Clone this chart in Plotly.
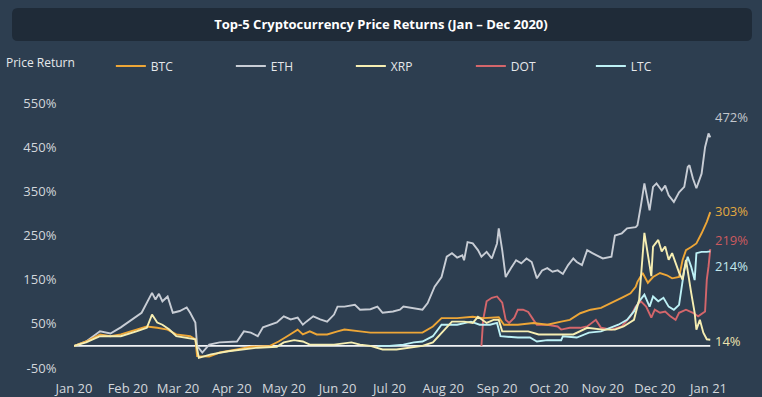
import plotly.graph_objects as go

# ---------------- data (percent price return since 1 Jan 2020) ----------------
btc_dates = ["2020-01-01","2020-01-08","2020-01-16","2020-01-22","2020-01-28","2020-02-06","2020-02-12",
             "2020-02-18","2020-02-24","2020-02-29","2020-03-08","2020-03-11","2020-03-12","2020-03-19",
             "2020-03-25","2020-04-04","2020-04-12","2020-04-23","2020-04-28","2020-05-03","2020-05-09",
             "2020-05-12","2020-05-16","2020-05-20","2020-05-26","2020-06-01","2020-06-05","2020-06-14",
             "2020-06-20","2020-06-27","2020-07-09","2020-07-20","2020-07-26","2020-07-31","2020-08-09",
             "2020-08-18","2020-08-24","2020-09-02","2020-09-05","2020-09-13","2020-09-22","2020-09-30",
             "2020-10-08","2020-10-13","2020-10-19","2020-10-25","2020-10-31","2020-11-06","2020-11-13",
             "2020-11-17","2020-11-20","2020-11-21","2020-11-24","2020-11-27","2020-11-30","2020-12-04",
             "2020-12-08","2020-12-11","2020-12-15","2020-12-17","2020-12-19","2020-12-22","2020-12-25",
             "2020-12-28","2020-12-31","2021-01-02"]
btc_vals = [0,10,26,22,26,37,44,41,37,26,22,15,-23,-24,-15,-8,-2,0,10,22,37,26,33,26,26,33,37,33,30,30,
            30,30,44,63,63,66,63,65,48,48,52,48,55,59,74,82,86,97,111,119,134,145,165,143,156,165,160,153,
            156,194,217,224,232,255,281,303]

eth_dates = ["2020-01-01","2020-01-08","2020-01-16","2020-01-22","2020-01-28","2020-02-06","2020-02-09",
             "2020-02-15","2020-02-17","2020-02-19","2020-02-21","2020-02-24","2020-02-27","2020-03-02",
             "2020-03-06","2020-03-08","2020-03-10","2020-03-11","2020-03-12","2020-03-15","2020-03-19",
             "2020-03-25","2020-04-04","2020-04-08","2020-04-12","2020-04-16","2020-04-19","2020-04-23",
             "2020-04-27","2020-05-01","2020-05-05","2020-05-09","2020-05-12","2020-05-14","2020-05-18",
             "2020-05-22","2020-05-26","2020-05-30","2020-06-01","2020-06-05","2020-06-11","2020-06-14",
             "2020-06-20","2020-06-24","2020-06-27","2020-07-03","2020-07-07","2020-07-09","2020-07-15",
             "2020-07-20","2020-07-23","2020-07-27","2020-07-31","2020-08-03","2020-08-06","2020-08-09",
             "2020-08-12","2020-08-13","2020-08-15","2020-08-18","2020-08-21","2020-08-23","2020-08-26",
             "2020-08-29","2020-09-01","2020-09-02","2020-09-04","2020-09-06","2020-09-09","2020-09-12",
             "2020-09-15","2020-09-18","2020-09-21","2020-09-24","2020-09-27","2020-09-30","2020-10-03",
             "2020-10-06","2020-10-09","2020-10-12","2020-10-15","2020-10-17","2020-10-20","2020-10-23",
             "2020-10-26","2020-10-30","2020-11-01","2020-11-06","2020-11-08","2020-11-12","2020-11-15",
             "2020-11-20","2020-11-21","2020-11-23","2020-11-25","2020-11-28","2020-11-30","2020-12-02",
             "2020-12-05","2020-12-07","2020-12-09","2020-12-12","2020-12-15","2020-12-18","2020-12-20",
             "2020-12-21","2020-12-23","2020-12-25","2020-12-28","2020-12-30","2021-01-01","2021-01-02"]
eth_vals = [0,10,33,28,42,67,75,120,105,118,101,112,75,79,87,75,60,53,0,-15,3,8,10,33,30,22,42,48,53,67,
            60,64,48,55,67,60,55,71,89,89,93,82,83,89,75,78,82,89,86,82,97,134,156,202,210,200,205,194,235,
            232,217,202,213,198,232,266,217,156,176,194,187,198,190,153,171,176,168,171,163,183,198,190,183,
            217,210,202,198,202,250,255,266,269,273,318,368,307,360,368,352,363,341,326,348,360,405,409,379,
            357,390,450,481,472]

xrp_dates = ["2020-01-01","2020-01-08","2020-01-16","2020-01-28","2020-02-06","2020-02-12","2020-02-15",
             "2020-02-18","2020-02-21","2020-02-25","2020-02-29","2020-03-06","2020-03-11","2020-03-13",
             "2020-03-20","2020-03-30","2020-04-08","2020-04-16","2020-04-27","2020-05-01","2020-05-07",
             "2020-05-12","2020-05-16","2020-05-30","2020-06-09","2020-06-14","2020-06-20","2020-06-27",
             "2020-07-05","2020-07-13","2020-07-20","2020-07-26","2020-07-31","2020-08-06","2020-08-13",
             "2020-08-18","2020-08-21","2020-08-26","2020-08-30","2020-09-02","2020-09-04","2020-09-13",
             "2020-09-19","2020-09-25","2020-10-02","2020-10-08","2020-10-15","2020-10-23","2020-11-01",
             "2020-11-08","2020-11-13","2020-11-19","2020-11-22","2020-11-25","2020-11-27","2020-11-29",
             "2020-11-30","2020-12-03","2020-12-05","2020-12-07","2020-12-09","2020-12-11","2020-12-13",
             "2020-12-15","2020-12-17","2020-12-19","2020-12-22","2020-12-24","2020-12-25","2020-12-27",
             "2020-12-29","2020-12-31","2021-01-02"]
xrp_vals = [0,8,22,22,33,41,71,53,48,37,22,19,15,-27,-19,-12,-8,-4,-2,8,13,10,3,3,8,3,0,-8,-8,-4,0,8,30,
            55,55,52,66,52,59,59,33,33,33,26,26,27,26,41,37,37,44,59,105,256,210,158,225,240,214,225,195,
            210,188,166,150,195,120,75,37,59,30,15,14]

dot_dates = ["2020-08-23","2020-08-24","2020-08-26","2020-08-29","2020-09-01","2020-09-04","2020-09-06",
             "2020-09-08","2020-09-11","2020-09-13","2020-09-16","2020-09-19","2020-09-22","2020-09-24",
             "2020-09-30","2020-10-06","2020-10-08","2020-10-13","2020-10-19","2020-10-23","2020-10-28",
             "2020-10-31","2020-11-06","2020-11-12","2020-11-17","2020-11-20","2020-11-23","2020-11-26",
             "2020-11-29","2020-12-01","2020-12-04","2020-12-07","2020-12-10","2020-12-13","2020-12-15",
             "2020-12-19","2020-12-23","2020-12-26","2020-12-30","2020-12-31","2021-01-01","2021-01-02"]
dot_vals = [0,59,101,109,112,98,59,52,64,82,82,77,59,48,48,44,37,41,41,44,59,41,37,44,67,89,101,89,64,82,
            75,78,67,59,75,82,75,67,78,150,180,219]

ltc_dates = ["2020-06-24","2020-07-01","2020-07-09","2020-07-15","2020-07-20","2020-07-26","2020-07-31",
             "2020-08-09","2020-08-17","2020-08-22","2020-08-28","2020-09-01","2020-09-03","2020-09-13",
             "2020-09-20","2020-09-24","2020-09-30","2020-10-08","2020-10-09","2020-10-17","2020-10-24",
             "2020-10-31","2020-11-10","2020-11-15","2020-11-19","2020-11-22","2020-11-25","2020-11-28",
             "2020-11-30","2020-12-03","2020-12-06","2020-12-09","2020-12-12","2020-12-15","2020-12-18",
             "2020-12-20","2020-12-22","2020-12-24","2020-12-25","2020-12-28","2020-12-31","2021-01-02"]
ltc_vals = [0,0,3,8,10,22,48,48,55,48,48,52,22,19,19,10,13,13,22,19,30,33,48,59,78,101,116,89,112,101,
            109,89,82,93,172,202,179,149,210,213,213,214]

y_tick_vals = [-50, 50, 150, 250, 350, 450, 550]
y_tick_text = ["-50%", "50%", "150%", "250%", "350%", "450%", "550%"]
x_tick_vals = ["2020-01-01","2020-02-01","2020-03-01","2020-04-01","2020-05-01","2020-06-01","2020-07-01",
               "2020-08-01","2020-09-01","2020-10-01","2020-11-01","2020-12-01","2021-01-01"]
x_tick_text = ["Jan 20","Feb 20","Mar 20","Apr 20","May 20","Jun 20","Jul 20","Aug 20","Sep 20",
               "Oct 20","Nov 20","Dec 20","Jan 21"]

# ---------------- styling ----------------
BG = "#2d3e50"
BOX = "#1f2b38"
FONT = "Open Sans"
series = [  # name, dates, values, line colour, label colour, legend rank (list order = draw order)
    ("ETH", eth_dates, eth_vals, "#c8cdd5", "#c3c7cd", 2),
    ("DOT", dot_dates, dot_vals, "#d4666b", "#cc5a5f", 4),
    ("BTC", btc_dates, btc_vals, "#eda637", "#e2a940", 1),
    ("LTC", ltc_dates, ltc_vals, "#bdf1f6", "#c3e8ee", 5),
    ("XRP", xrp_dates, xrp_vals, "#f6eeb2", "#ece2ae", 3),
]
# label vertical placement (percent units on the y axis) to avoid overlaps
label_pos = {"ETH": 518, "BTC": 306, "DOT": 240, "LTC": 180, "XRP": 12}

W, H = 762, 397
ML, MR, MT, MB = 74, 50, 103, 29

fig = go.Figure()
for name, d, v, col, lcol, rank in series:
    fig.add_trace(go.Scatter(x=d, y=v, mode="lines", name=name, legendrank=rank,
                             line=dict(color=col, width=1.9)))
    fig.add_annotation(x=d[-1], y=label_pos[name], text=f"{v[-1]}%", showarrow=False,
                       xanchor="left", yanchor="middle", xshift=3,
                       font=dict(family=FONT, size=13, color=lcol))

# zero baseline
fig.add_shape(type="line", xref="x", yref="y", x0=btc_dates[0], x1=btc_dates[-1], y0=0, y1=0,
              line=dict(color="#f2f4f6", width=1.6), layer="below")

# title box (rounded rectangle)
pw, ph = W - ML - MR, H - MT - MB
def px_x(p): return (p - ML) / pw
def px_y(p): return (H - MB - p) / ph
bx0, bx1, by0, by1, r = 12, 752, 8, 41, 6
path = (f"M {px_x(bx0 + r)},{px_y(by0)} L {px_x(bx1 - r)},{px_y(by0)} "
        f"Q {px_x(bx1)},{px_y(by0)} {px_x(bx1)},{px_y(by0 + r)} "
        f"L {px_x(bx1)},{px_y(by1 - r)} Q {px_x(bx1)},{px_y(by1)} {px_x(bx1 - r)},{px_y(by1)} "
        f"L {px_x(bx0 + r)},{px_y(by1)} Q {px_x(bx0)},{px_y(by1)} {px_x(bx0)},{px_y(by1 - r)} "
        f"L {px_x(bx0)},{px_y(by0 + r)} Q {px_x(bx0)},{px_y(by0)} {px_x(bx0 + r)},{px_y(by0)} Z")
fig.add_shape(type="path", xref="paper", yref="paper", path=path,
              fillcolor=BOX, line=dict(width=0), layer="below")

fig.update_layout(
    width=W, height=H,
    paper_bgcolor=BG, plot_bgcolor=BG,
    margin=dict(l=ML, r=MR, t=MT, b=MB, autoexpand=False),
    font=dict(family=FONT, size=13, color="#d3d7dc"),
    title=dict(text="<b>Top-5 Cryptocurrency Price Returns (Jan – Dec 2020)</b>",
               x=0.5, xanchor="center", y=1 - 24 / H, yanchor="middle", yref="container",
               font=dict(family=FONT, size=13, color="#ffffff")),
    showlegend=True,
    legend=dict(orientation="h", x=4 / W, xref="container", y=1 - 66 / H, yref="container",
                yanchor="middle", xanchor="left",
                title=dict(text="Price Return" + "\u00a0" * 9, font=dict(size=12, color="#e6e8eb")),
                font=dict(size=12, color="#e6e8eb"),
                bgcolor="rgba(0,0,0,0)", itemwidth=30, entrywidth=75, traceorder="normal"),
    xaxis=dict(range=["2020-01-01", "2021-01-03"], tickvals=x_tick_vals, ticktext=x_tick_text,
               showgrid=False, zeroline=False, showline=False, ticks="outside", ticklen=8,
               tickcolor=BG, tickfont=dict(size=13, color="#d3d7dc")),
    yaxis=dict(range=[-50, 550], tickvals=y_tick_vals, ticktext=y_tick_text,
               showgrid=False, zeroline=False, showline=False, ticks="outside", ticklen=14,
               tickcolor=BG, tickfont=dict(size=13, color="#d3d7dc")),
)

fig.write_html("out.html", config={"displayModeBar": False},
               post_script="document.body.style.margin='0';document.body.style.background='%s';" % BG)
